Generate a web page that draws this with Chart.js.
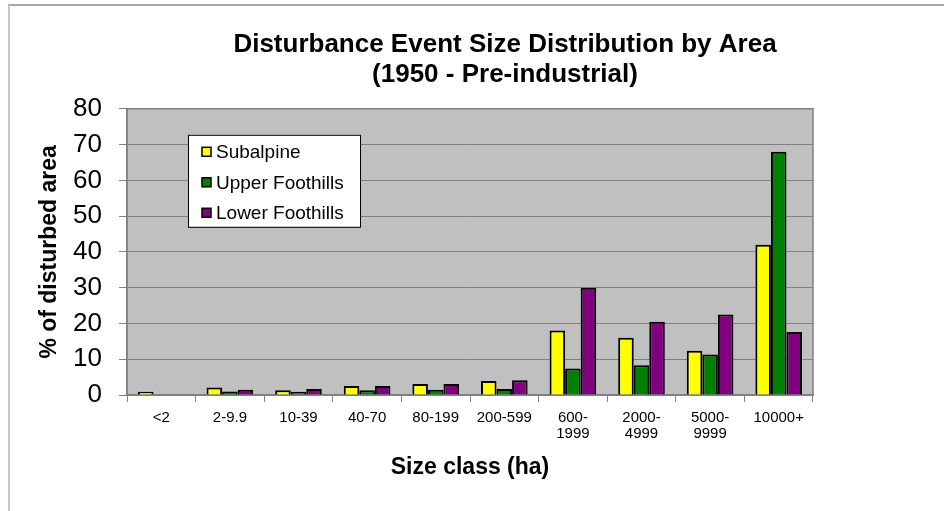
<!DOCTYPE html>
<html>
<head>
<meta charset="utf-8">
<script src="https://cdn.jsdelivr.net/npm/chart.js@4.4.1/dist/chart.umd.min.js"></script>
<style>
  body { margin: 0; background: #fff; }
  #frame { position: absolute; left: 8px; top: 4px; width: 936px; height: 507px;
           border-top: 2px solid #a8a8a8; border-left: 2px solid #c8c8c8; }
  #wrap { position: absolute; left: 0; top: 0; width: 944px; height: 511px; }
</style>
</head>
<body>
<div id="frame"></div>
<div id="wrap"><canvas id="chart" width="944" height="511"></canvas></div>
<script>
// size classes (ha)
var sizeClasses = ['<2', '2-9.9', '10-39', '40-70', '80-199', '200-599',
                   ['600-', '1999'], ['2000-', '4999'], ['5000-', '9999'], '10000+'];
// % of disturbed area
var subalpine      = [0.9, 2.1, 1.3, 2.5, 3.1, 3.9, 18.0, 16.0, 12.4, 42.0];
var upperFoothills = [0, 1.0, 0.9, 1.3, 1.5, 1.7, 7.4, 8.3, 11.3, 68.0];
var lowerFoothills = [0, 1.5, 1.7, 2.5, 3.1, 4.1, 30.0, 20.5, 22.5, 17.6];
var yTicks = [0, 10, 20, 30, 40, 50, 60, 70, 80];

Chart.defaults.font.family = "'Liberation Sans', Arial, sans-serif";
Chart.defaults.color = '#000';

// grey plot background with a thin frame
var plotBg = {
  id: 'plotBg',
  beforeDraw: function(chart) {
    var a = chart.chartArea, c = chart.ctx;
    c.save();
    c.fillStyle = '#c0c0c0';
    c.fillRect(a.left, a.top, a.right - a.left, a.bottom - a.top);
    c.strokeStyle = '#808080';
    c.lineWidth = 1.5;
    c.strokeRect(a.left, a.top, a.right - a.left, a.bottom - a.top);
    c.restore();
  }
};

// title is not centred on the plot in the original, nudge it right
var titleShift = {
  id: 'titleShift',
  afterLayout: function(chart) {
    if (chart.titleBlock) {
      chart.titleBlock.left = 66;
      chart.titleBlock.right = 944;
    }
  }
};

// boxed legend sitting inside the plot area
var boxLegend = {
  id: 'boxLegend',
  afterDatasetsDraw: function(chart) {
    var a = chart.chartArea, c = chart.ctx;
    var x = a.left + 61, y = a.top + 26, w = 172, h = 92;
    c.save();
    c.fillStyle = '#fff';
    c.fillRect(x, y, w, h);
    c.strokeStyle = '#000';
    c.lineWidth = 1;
    c.strokeRect(x + 0.5, y + 0.5, w, h);
    c.font = "19px 'Liberation Sans', Arial, sans-serif";
    c.textBaseline = 'middle';
    chart.data.datasets.forEach(function(ds, i) {
      var ry = y + 17 + i * 30.5;
      c.fillStyle = ds.backgroundColor;
      c.fillRect(x + 14, ry - 4.5, 9, 9);
      c.strokeStyle = '#000';
      c.lineWidth = 1.5;
      c.strokeRect(x + 14, ry - 4.5, 9, 9);
      c.fillStyle = '#000';
      c.fillText(ds.label, x + 28, ry + 1);
    });
    c.restore();
  }
};

var ctx = document.getElementById('chart').getContext('2d');
var myChart = new Chart(ctx, {
  type: 'bar',
  data: {
    labels: sizeClasses,
    datasets: [
      { label: 'Subalpine', data: subalpine, backgroundColor: '#ffff00' },
      { label: 'Upper Foothills', data: upperFoothills, backgroundColor: '#008000' },
      { label: 'Lower Foothills', data: lowerFoothills, backgroundColor: '#800080' }
    ]
  },
  options: {
    responsive: false,
    animation: false,
    layout: { padding: { left: 0, right: 131, top: 0, bottom: 0 } },
    datasets: {
      bar: {
        borderColor: '#000',
        borderWidth: 2,
        barPercentage: 1.0,
        categoryPercentage: 0.68
      }
    },
    plugins: {
      legend: { display: false },
      tooltip: { enabled: false },
      title: {
        display: true,
        text: ['Disturbance Event Size Distribution by Area', '(1950 - Pre-industrial)'],
        font: { size: 26, weight: 'bold', lineHeight: 1.15 },
        color: '#000',
        padding: { top: 30, bottom: 19 }
      }
    },
    scales: {
      x: {
        afterFit: function(scale) { scale.height = 116; },
        grid: {
          offset: true,
          drawOnChartArea: false,
          drawTicks: true,
          tickLength: 7,
          color: '#808080'
        },
        border: { color: '#808080', width: 1.5 },
        ticks: {
          font: { size: 15, lineHeight: 1.07 },
          padding: 8,
          maxRotation: 0,
          autoSkip: false
        },
        title: {
          display: true,
          text: 'Size class (ha)',
          font: { size: 23, weight: 'bold' },
          padding: { top: 0, bottom: 30 }
        }
      },
      y: {
        min: 0,
        max: 80,
        afterFit: function(scale) { scale.width = 127; },
        afterBuildTicks: function(scale) {
          scale.ticks = yTicks.map(function(v) { return { value: v }; });
        },
        grid: {
          color: '#808080',
          lineWidth: 1,
          tickLength: 8
        },
        border: { color: '#808080', width: 1.5 },
        ticks: {
          font: { size: 26 },
          padding: 17
        },
        title: {
          display: true,
          text: '% of disturbed area',
          font: { size: 23, weight: 'bold' },
          padding: { top: 36, bottom: 0 }
        }
      }
    }
  },
  plugins: [plotBg, titleShift, boxLegend]
});
</script>
</body>
</html>
